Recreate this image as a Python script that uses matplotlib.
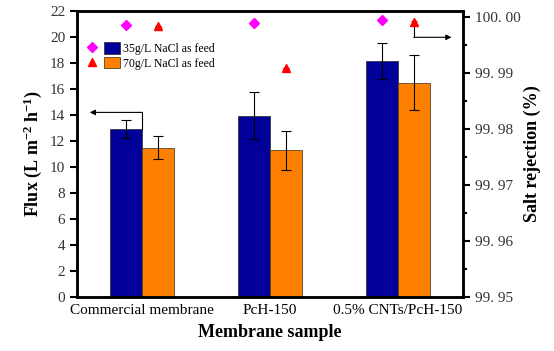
import matplotlib
matplotlib.use("Agg")
import matplotlib.pyplot as plt
import numpy as np
from matplotlib.legend_handler import HandlerTuple
from matplotlib.lines import Line2D
from matplotlib.patches import Patch

plt.rcParams['font.family'] = ['Liberation Serif', 'DejaVu Serif']
plt.rcParams['mathtext.fontset'] = 'custom'
plt.rcParams['mathtext.rm'] = 'Liberation Serif:bold'
plt.rcParams['mathtext.bf'] = 'Liberation Serif:bold'
plt.rcParams['mathtext.it'] = 'Liberation Serif:bold'

categories = ["Commercial membrane", "PcH-150", "0.5% CNTs/PcH-150"]
flux_35 = [12.95, 13.95, 18.15]
flux_35_err = [0.7, 1.8, 1.4]
flux_70 = [11.5, 11.3, 16.5]
flux_70_err = [0.9, 1.5, 2.1]
rej_35 = [99.9986, 99.9989, 99.9995]
rej_35_err = [0.0003, 0.0002, 0.0001]
rej_70 = [99.9984, 99.9909, 99.9991]
rej_70_err = [0.0001, 0.0001, 0.0003]
left_ticks = [0, 2, 4, 6, 8, 10, 12, 14, 16, 18, 20, 22]
right_ticks = [99.95, 99.96, 99.97, 99.98, 99.99, 100.00]
right_labels = ["99. 95", "99. 96", "99. 97", "99. 98", "99. 99", "100. 00"]

blue = '#000099'
orange = '#FF8000'

fig = plt.figure(figsize=(5.54, 3.51), dpi=100)
ax = fig.add_axes([77/554, 1-297/351, 386/554, 286/351])
ax2 = ax.twinx()

x = np.arange(len(categories))
w = 0.25
ekw = dict(ecolor='black', elinewidth=0.8, capsize=3.5, capthick=0.8)
ax.bar(x - w/2, flux_35, w, color=blue, edgecolor='#333344', linewidth=0.6,
       yerr=flux_35_err, error_kw=ekw)
ax.bar(x + w/2, flux_70, w, color=orange, edgecolor='#554422', linewidth=0.6,
       yerr=flux_70_err, error_kw=ekw)

ax.set_xlim(-0.51, 2.51)
ax.set_ylim(0, 22)
ax.set_yticks(left_ticks)
ax.set_xticks(x)
ax.set_xticklabels(categories, fontsize=11)
ax.tick_params(axis='x', length=0, pad=5)
ax.tick_params(axis='y', direction='out', length=5, width=1.5, labelsize=11, labelcolor='#333333')
for s in ax.spines.values():
    s.set_linewidth(1.8)

ax2.errorbar(x - w/2, rej_35, yerr=rej_35_err, fmt='D', color='#FF00FF', markersize=5,
             ecolor='#FF00FF', elinewidth=0.8, capsize=2)
ax2.errorbar(x + w/2, rej_70, yerr=rej_70_err, fmt='^', color='#FF0000', markersize=5.5,
             ecolor='#FF0000', elinewidth=0.8, capsize=2)
ax2.set_ylim(99.95, 100.0011)
ax2.set_yticks(right_ticks)
ax2.set_yticklabels(right_labels)
ax2.set_yticks([99.955, 99.965, 99.975, 99.985, 99.995], minor=True)
ax2.tick_params(axis='y', which='major', direction='out', length=5, width=1.5, labelsize=11, labelcolor='#333333')
ax2.tick_params(axis='y', which='minor', direction='out', length=3, width=1.5)
for s in ax2.spines.values():
    s.set_linewidth(1.8)

ax.set_ylabel(r"Flux (L m$^{-2}$ h$^{-1}$)", fontsize=13, fontweight='bold', labelpad=4)
ax2.set_ylabel("Salt rejection (%)", fontsize=13, fontweight='bold', labelpad=2)
ax.set_xlabel("Membrane sample", fontsize=13, fontweight='bold', labelpad=5)

# arrows
ax.annotate('', xy=(-0.41, 14.2), xytext=(0.0, 14.2),
            arrowprops=dict(arrowstyle='-|>', color='black', lw=0.8, mutation_scale=8, shrinkA=0, shrinkB=0))
ax.plot([0.0, 0.0], [14.2, 12.95], color='black', lw=0.8)
ax2.annotate('', xy=(2.42, 99.9964), xytext=(2.125, 99.9964),
             arrowprops=dict(arrowstyle='-|>', color='black', lw=0.8, mutation_scale=8, shrinkA=0, shrinkB=0))
ax2.plot([2.125, 2.125], [99.9964, 99.9990], color='black', lw=0.8)

handles = [
    (Line2D([], [], marker='D', color='#FF00FF', linestyle='none', markersize=5),
     Patch(facecolor=blue, edgecolor='#333344', linewidth=0.6)),
    (Line2D([], [], marker='^', color='#FF0000', linestyle='none', markersize=5.5),
     Patch(facecolor=orange, edgecolor='#554422', linewidth=0.6)),
]
ax.legend(handles, ["35g/L NaCl as feed", "70g/L NaCl as feed"],
          handler_map={tuple: HandlerTuple(ndivide=None, pad=0.3)},
          loc='upper left', bbox_to_anchor=(0.0, 0.915), frameon=False, fontsize=8.5,
          handlelength=3.0, handleheight=1.1, handletextpad=0.3, labelspacing=0.15, borderaxespad=0.2)

fig.savefig("out.png", dpi=100)
